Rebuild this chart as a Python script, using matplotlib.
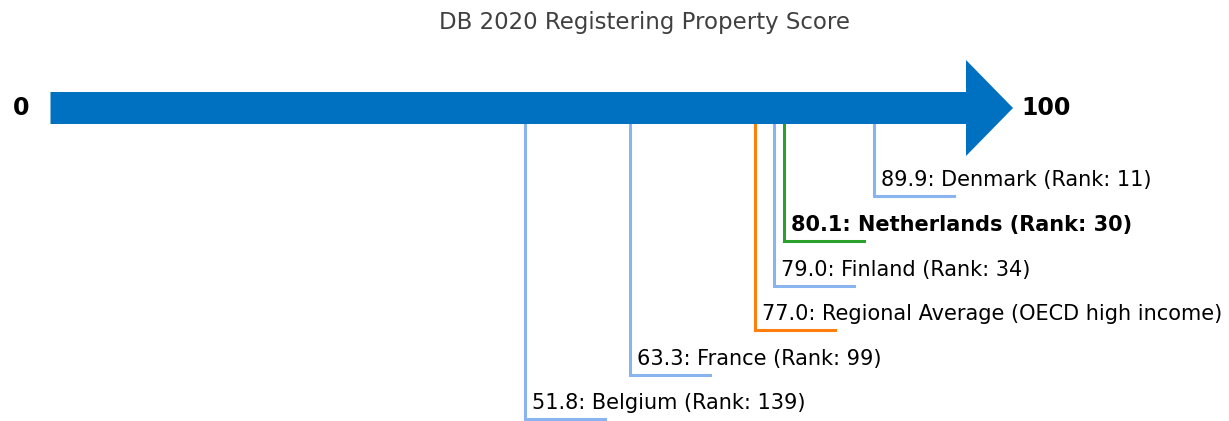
import matplotlib
matplotlib.use("Agg")
import matplotlib.pyplot as plt
from matplotlib.patches import Polygon

title = "DB 2020 Registering Property Score"
names = ["Denmark (Rank: 11)", "Netherlands (Rank: 30)", "Finland (Rank: 34)",
         "Regional Average (OECD high income)", "France (Rank: 99)", "Belgium (Rank: 139)"]
scores = [89.9, 80.1, 79.0, 77.0, 63.3, 51.8]
colors = ["#8ab4f0", "#2ca02c", "#8ab4f0", "#ff7f0e", "#8ab4f0", "#8ab4f0"]
bold = [False, True, False, False, False, False]
scale_min, scale_max = 0, 100

W, H = 1229, 421
fig = plt.figure(figsize=(W / 100, H / 100), dpi=100)
ax = fig.add_axes([0, 0, 1, 1])
ppu = 9.155  # pixels per unit
x0 = 50.5
ax.set_xlim(-x0 / ppu, (W - x0) / ppu)
ax.set_ylim(H, 0)
ax.axis("off")

# arrow
yc = 108
bh = 16
hh = 48
tip = scale_max + (1013 - 966) / ppu
arrow = Polygon([(scale_min, yc - bh), (scale_max, yc - bh), (scale_max, yc - hh),
                 (tip, yc), (scale_max, yc + hh), (scale_max, yc + bh),
                 (scale_min, yc + bh)], closed=True, facecolor="#0070c0",
                edgecolor="none", zorder=3)
ax.add_patch(arrow)

ax.text(scale_min - 38 / ppu, yc, str(scale_min), fontsize=17, fontweight="bold",
        ha="left", va="center")
ax.text(tip + 8 / ppu, yc, str(scale_max), fontsize=17, fontweight="bold",
        ha="left", va="center")

ax.text((644 - x0) / ppu, 23, title, fontsize=16.5, color="#404040",
        ha="center", va="center")

line_ys = [196, 241, 286, 330, 375, 419]
seg = 80 / ppu
for s, n, c, b, ly in zip(scores, names, colors, bold, line_ys):
    ax.plot([s, s, s + seg], [yc + bh, ly, ly], color=c, lw=2.2, zorder=2,
            solid_joinstyle="miter")
    ax.text(s + 7 / ppu, ly - 10, f"{s:.1f}: {n}", fontsize=15,
            fontweight="bold" if b else "normal", ha="left", va="baseline",
            color="black")

fig.savefig("out.png", dpi=100)
